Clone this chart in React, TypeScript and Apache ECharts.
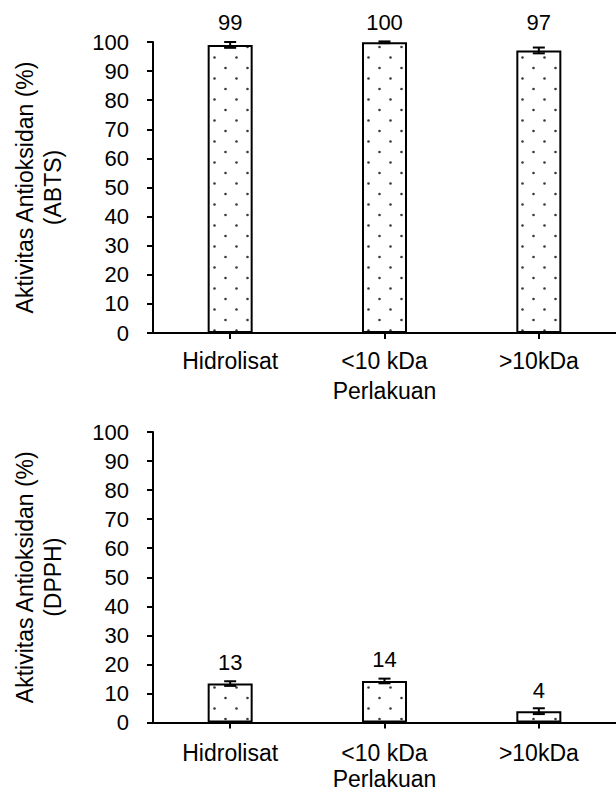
import React, { useEffect, useRef } from 'react';
import * as echarts from 'echarts';

const categories = ['Hidrolisat', '<10 kDa', '>10kDa'];
const abtsValues = [99.0, 99.9, 97.1];
const abtsErrors = [1.0, 0.3, 1.0];
const abtsLabels = ['99', '100', '97'];
const dpphValues = [13.4, 14.3, 3.9];
const dpphErrors = [0.8, 0.8, 1.0];
const dpphLabels = ['13', '14', '4'];
const yMin = 0;
const yMax = 100;
const yInterval = 10;

const FONT = '"Liberation Sans", Arial, sans-serif';

function makeDots(): HTMLCanvasElement {
  const c = document.createElement('canvas');
  c.width = 22;
  c.height = 21;
  const ctx = c.getContext('2d')!;
  ctx.fillStyle = '#ffffff';
  ctx.fillRect(0, 0, 22, 21);
  ctx.fillStyle = '#3a3a3a';
  ctx.beginPath();
  ctx.arc(5.5, 5, 1.3, 0, Math.PI * 2);
  ctx.fill();
  ctx.beginPath();
  ctx.arc(16.5, 15.5, 1.3, 0, Math.PI * 2);
  ctx.fill();
  return c;
}

export default function App() {
  const ref = useRef<HTMLDivElement>(null);
  useEffect(() => {
    document.body.style.margin = '0';
    if (!ref.current) return;
    const chart = echarts.init(ref.current, undefined, { renderer: 'svg' });
    const dots = makeDots();
    const pattern: any = { image: dots, repeat: 'repeat', imageWidth: 22, imageHeight: 21 };

    const grids = [
      { left: 153, top: 42, width: 463, height: 291 },
      { left: 153, top: 432, width: 463, height: 294 },
    ];
    const names = ['Aktivitas Antioksidan (%)\n(ABTS)', 'Aktivitas Antioksidan (%)\n(DPPH)'];
    const xNameGaps = [48, 46];

    const xAxis = grids.map((_, k) => ({
      type: 'category',
      gridIndex: k,
      data: categories,
      boundaryGap: true,
      name: 'Perlakuan',
      nameLocation: 'middle',
      nameGap: xNameGaps[k],
      nameTextStyle: { color: '#000', fontSize: 23, fontFamily: FONT, lineHeight: 20 },
      axisLine: { show: true, lineStyle: { color: '#000', width: 2 } },
      axisTick: { show: true, alignWithLabel: true, length: 6, lineStyle: { color: '#000', width: 2 } },
      axisLabel: { color: '#000', fontSize: 23, fontFamily: FONT, margin: k === 0 ? 18 : 20, lineHeight: 20 },
      splitLine: { show: false },
    }));
    const yAxis = grids.map((_, k) => ({
      type: 'value',
      gridIndex: k,
      min: yMin,
      max: yMax,
      interval: yInterval,
      name: names[k],
      nameLocation: 'middle',
      nameGap: 86,
      nameTextStyle: { color: '#000', fontSize: 23, fontFamily: FONT, lineHeight: 28 },
      axisLine: { show: true, lineStyle: { color: '#000', width: 2 } },
      axisTick: { show: true, length: 6, lineStyle: { color: '#000', width: 2 } },
      axisLabel: { color: '#000', fontSize: 22, fontFamily: FONT, margin: 24 },
      splitLine: { show: false },
    }));

    const datasets = [
      { values: abtsValues, errors: abtsErrors, labels: abtsLabels },
      { values: dpphValues, errors: dpphErrors, labels: dpphLabels },
    ];

    const series: any[] = [];
    datasets.forEach((d, k) => {
      series.push({
        type: 'bar',
        xAxisIndex: k,
        yAxisIndex: k,
        barWidth: 45,
        data: d.values,
        itemStyle: { color: pattern, borderColor: '#000', borderWidth: 2 },
        silent: true,
      });
      series.push({
        type: 'custom',
        xAxisIndex: k,
        yAxisIndex: k,
        encode: { x: 0, y: 1 },
        data: d.values.map((v, i) => [i, v, d.errors[i]]),
        z: 5,
        silent: true,
        renderItem: (params: any, api: any) => {
          const i = api.value(0);
          const v = api.value(1);
          const e = api.value(2);
          const top = api.coord([i, v + e]);
          const bot = api.coord([i, v - e]);
          const x = top[0];
          const hw = 6;
          const st = { stroke: '#000', lineWidth: 2 };
          return {
            type: 'group',
            children: [
              { type: 'line', shape: { x1: x, y1: top[1], x2: x, y2: bot[1] }, style: st },
              { type: 'line', shape: { x1: x - hw, y1: top[1], x2: x + hw, y2: top[1] }, style: st },
              { type: 'line', shape: { x1: x - hw, y1: bot[1], x2: x + hw, y2: bot[1] }, style: st },
            ],
          };
        },
      });
      series.push({
        type: 'custom',
        xAxisIndex: k,
        yAxisIndex: k,
        encode: { x: 0, y: 1 },
        data: d.values.map((v, i) => [i, v]),
        z: 6,
        silent: true,
        renderItem: (params: any, api: any) => {
          const i = api.value(0);
          const v = api.value(1);
          const p = api.coord([i, v]);
          const gridTop = params.coordSys.y;
          let y = p[1] - 21;
          if (p[1] < gridTop + 20) y = gridTop - 20;
          return {
            type: 'text',
            x: p[0],
            y,
            style: {
              text: d.labels[params.dataIndex],
              x: 0,
              y: 0,
              align: 'center',
              verticalAlign: 'middle',
              fill: '#000',
              fontSize: 22,
              fontFamily: FONT,
            },
          };
        },
      });
    });

    chart.setOption({
      animation: false,
      backgroundColor: '#fff',
      grid: grids,
      xAxis,
      yAxis,
      series,
    });
    return () => chart.dispose();
  }, []);
  return <div ref={ref} style={{ width: 616, height: 791 }} />;
}
